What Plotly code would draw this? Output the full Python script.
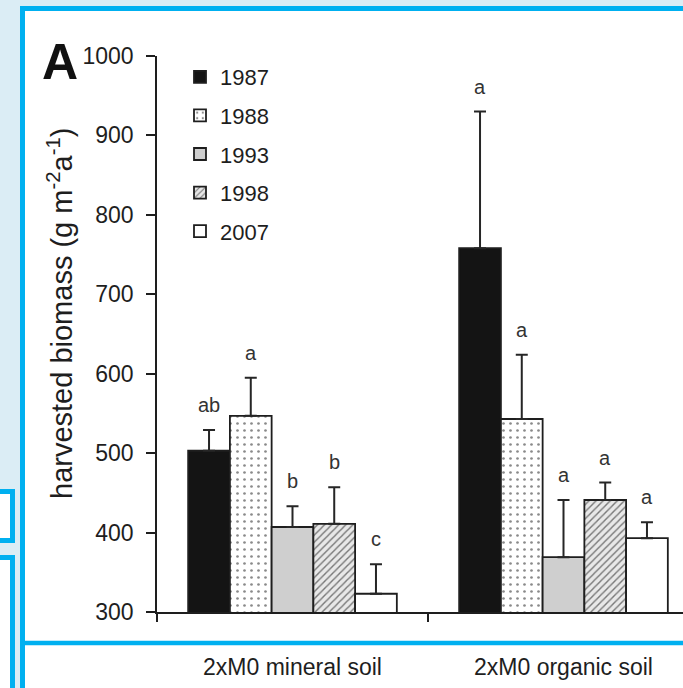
import plotly.graph_objects as go

# Harvested biomass per site and harvest year (mean and upper error)
sites = ["2xM0 mineral soil", "2xM0 organic soil"]
years = ["1987", "1988", "1993", "1998", "2007"]

mean_1987 = [503, 758]
mean_1988 = [547, 543]
mean_1993 = [407, 369]
mean_1998 = [411, 441]
mean_2007 = [323, 393]

err_1987 = [26, 172]
err_1988 = [48, 81]
err_1993 = [26, 72]
err_1998 = [46, 22]
err_2007 = [37, 20]

letters_1987 = ["ab", "a"]
letters_1988 = ["a", "a"]
letters_1993 = ["b", "a"]
letters_1998 = ["b", "a"]
letters_2007 = ["c", "a"]

y_ticks = [300, 400, 500, 600, 700, 800, 900, 1000]

means = [mean_1987, mean_1988, mean_1993, mean_1998, mean_2007]
errs = [err_1987, err_1988, err_1993, err_1998, err_2007]
letters = [letters_1987, letters_1988, letters_1993, letters_1998, letters_2007]

# Page geometry
W, H = 683, 688
L, R, T, B = 157, 0, 56, 76
BARGAP = 0.23
BG = "#dbedf5"
FRAME = "#00b0f0"
FONT = "Liberation Sans, Arial, sans-serif"
INK = "#1e1e1e"


def px2x(px):
    return (px - L) / (W - L - R)


def py2y(py):
    return (H - B - py) / (H - T - B)


fills = [
    dict(color="#141414"),
    dict(color="white", pattern=dict(shape=".", fgcolor="#8a8a8a", bgcolor="white",
                                     fillmode="replace", size=7, solidity=0.12)),
    dict(color="#cfcfcf"),
    dict(color="#e2e2e2", pattern=dict(shape="/", fgcolor="#777777", bgcolor="#e8e8e8",
                                       fillmode="replace", size=5, solidity=0.28)),
    dict(color="white"),
]

fig = go.Figure()
for k, year in enumerate(years):
    marker = dict(fills[k])
    marker["line"] = dict(color=INK, width=1.8)
    fig.add_trace(go.Bar(
        name=year,
        x=sites,
        y=means[k],
        legendgroup=year,
        marker=marker,
        error_y=dict(type="data", symmetric=False, array=errs[k],
                     arrayminus=[0] * len(sites), color="#262626",
                     thickness=2, width=6),
    ))

# Significance letters above each error bar
slot = (1 - BARGAP) / len(years)
annotations = []
for k in range(len(years)):
    for i in range(len(sites)):
        annotations.append(dict(
            x=i + (k - (len(years) - 1) / 2) * slot,
            y=means[k][i] + errs[k][i],
            xref="x", yref="y",
            text=letters[k][i],
            showarrow=False,
            yanchor="bottom",
            yshift=12,
            font=dict(family=FONT, size=20, color="#333333"),
        ))

annotations.append(dict(
    x=px2x(60), y=py2y(314), xref="paper", yref="paper",
    text="harvested biomass (g m<sup>-2</sup>a<sup>-1</sup>)",
    textangle=-90, showarrow=False, xanchor="center", yanchor="middle",
    font=dict(family=FONT, size=29, color=INK),
))
annotations.append(dict(
    x=px2x(60), y=py2y(62), xref="paper", yref="paper",
    text="<b>A</b>", showarrow=False, xanchor="center", yanchor="middle",
    font=dict(family=FONT, size=50, color="#111111"),
))

shapes = [
    # framed panel
    dict(type="rect", xref="paper", yref="paper", layer="below",
         x0=px2x(22.5), x1=px2x(720), y0=py2y(8.5), y1=py2y(720),
         line=dict(color=FRAME, width=5), fillcolor="white"),
    # divider above the category labels
    dict(type="line", xref="paper", yref="paper", layer="above",
         x0=px2x(20), x1=px2x(720), y0=py2y(643), y1=py2y(643),
         line=dict(color=FRAME, width=4.5)),
    # neighbouring panels on the left
    dict(type="rect", xref="paper", yref="paper", layer="below",
         x0=px2x(-20), x1=px2x(12.5), y0=py2y(491.5), y1=py2y(540.5),
         line=dict(color=FRAME, width=5), fillcolor="white"),
    dict(type="rect", xref="paper", yref="paper", layer="below",
         x0=px2x(-20), x1=px2x(12.5), y0=py2y(557.5), y1=py2y(720),
         line=dict(color=FRAME, width=5), fillcolor="white"),
]

fig.update_layout(
    width=W, height=H,
    margin=dict(l=L, r=R, t=T, b=B),
    paper_bgcolor=BG,
    plot_bgcolor="rgba(0,0,0,0)",
    barmode="group",
    bargap=BARGAP,
    bargroupgap=0,
    font=dict(family=FONT, color=INK),
    showlegend=True,
    legend=dict(x=px2x(180), y=py2y(56), xanchor="left", yanchor="top",
                bgcolor="rgba(0,0,0,0)", tracegroupgap=7,
                font=dict(family=FONT, size=22, color=INK)),
    annotations=annotations,
    shapes=shapes,
)

fig.update_xaxes(
    type="category",
    range=[-0.5, -0.5 + (W - L - R) / 271],
    tickson="boundaries",
    ticks="outside", ticklen=8, tickwidth=1.5, tickcolor=INK,
    showline=True, linecolor=INK, linewidth=1.5,
    showgrid=False, zeroline=False,
    ticklabelstandoff=34,
    tickfont=dict(family=FONT, size=23, color=INK),
)
fig.update_yaxes(
    range=[300, 1000],
    tickvals=y_ticks,
    ticks="outside", ticklen=9, tickwidth=1.5, tickcolor=INK,
    showline=True, linecolor=INK, linewidth=1.5,
    showgrid=False, zeroline=False,
    ticklabelstandoff=8,
    tickfont=dict(family=FONT, size=23, color=INK),
)

fig.write_html("out.html")
